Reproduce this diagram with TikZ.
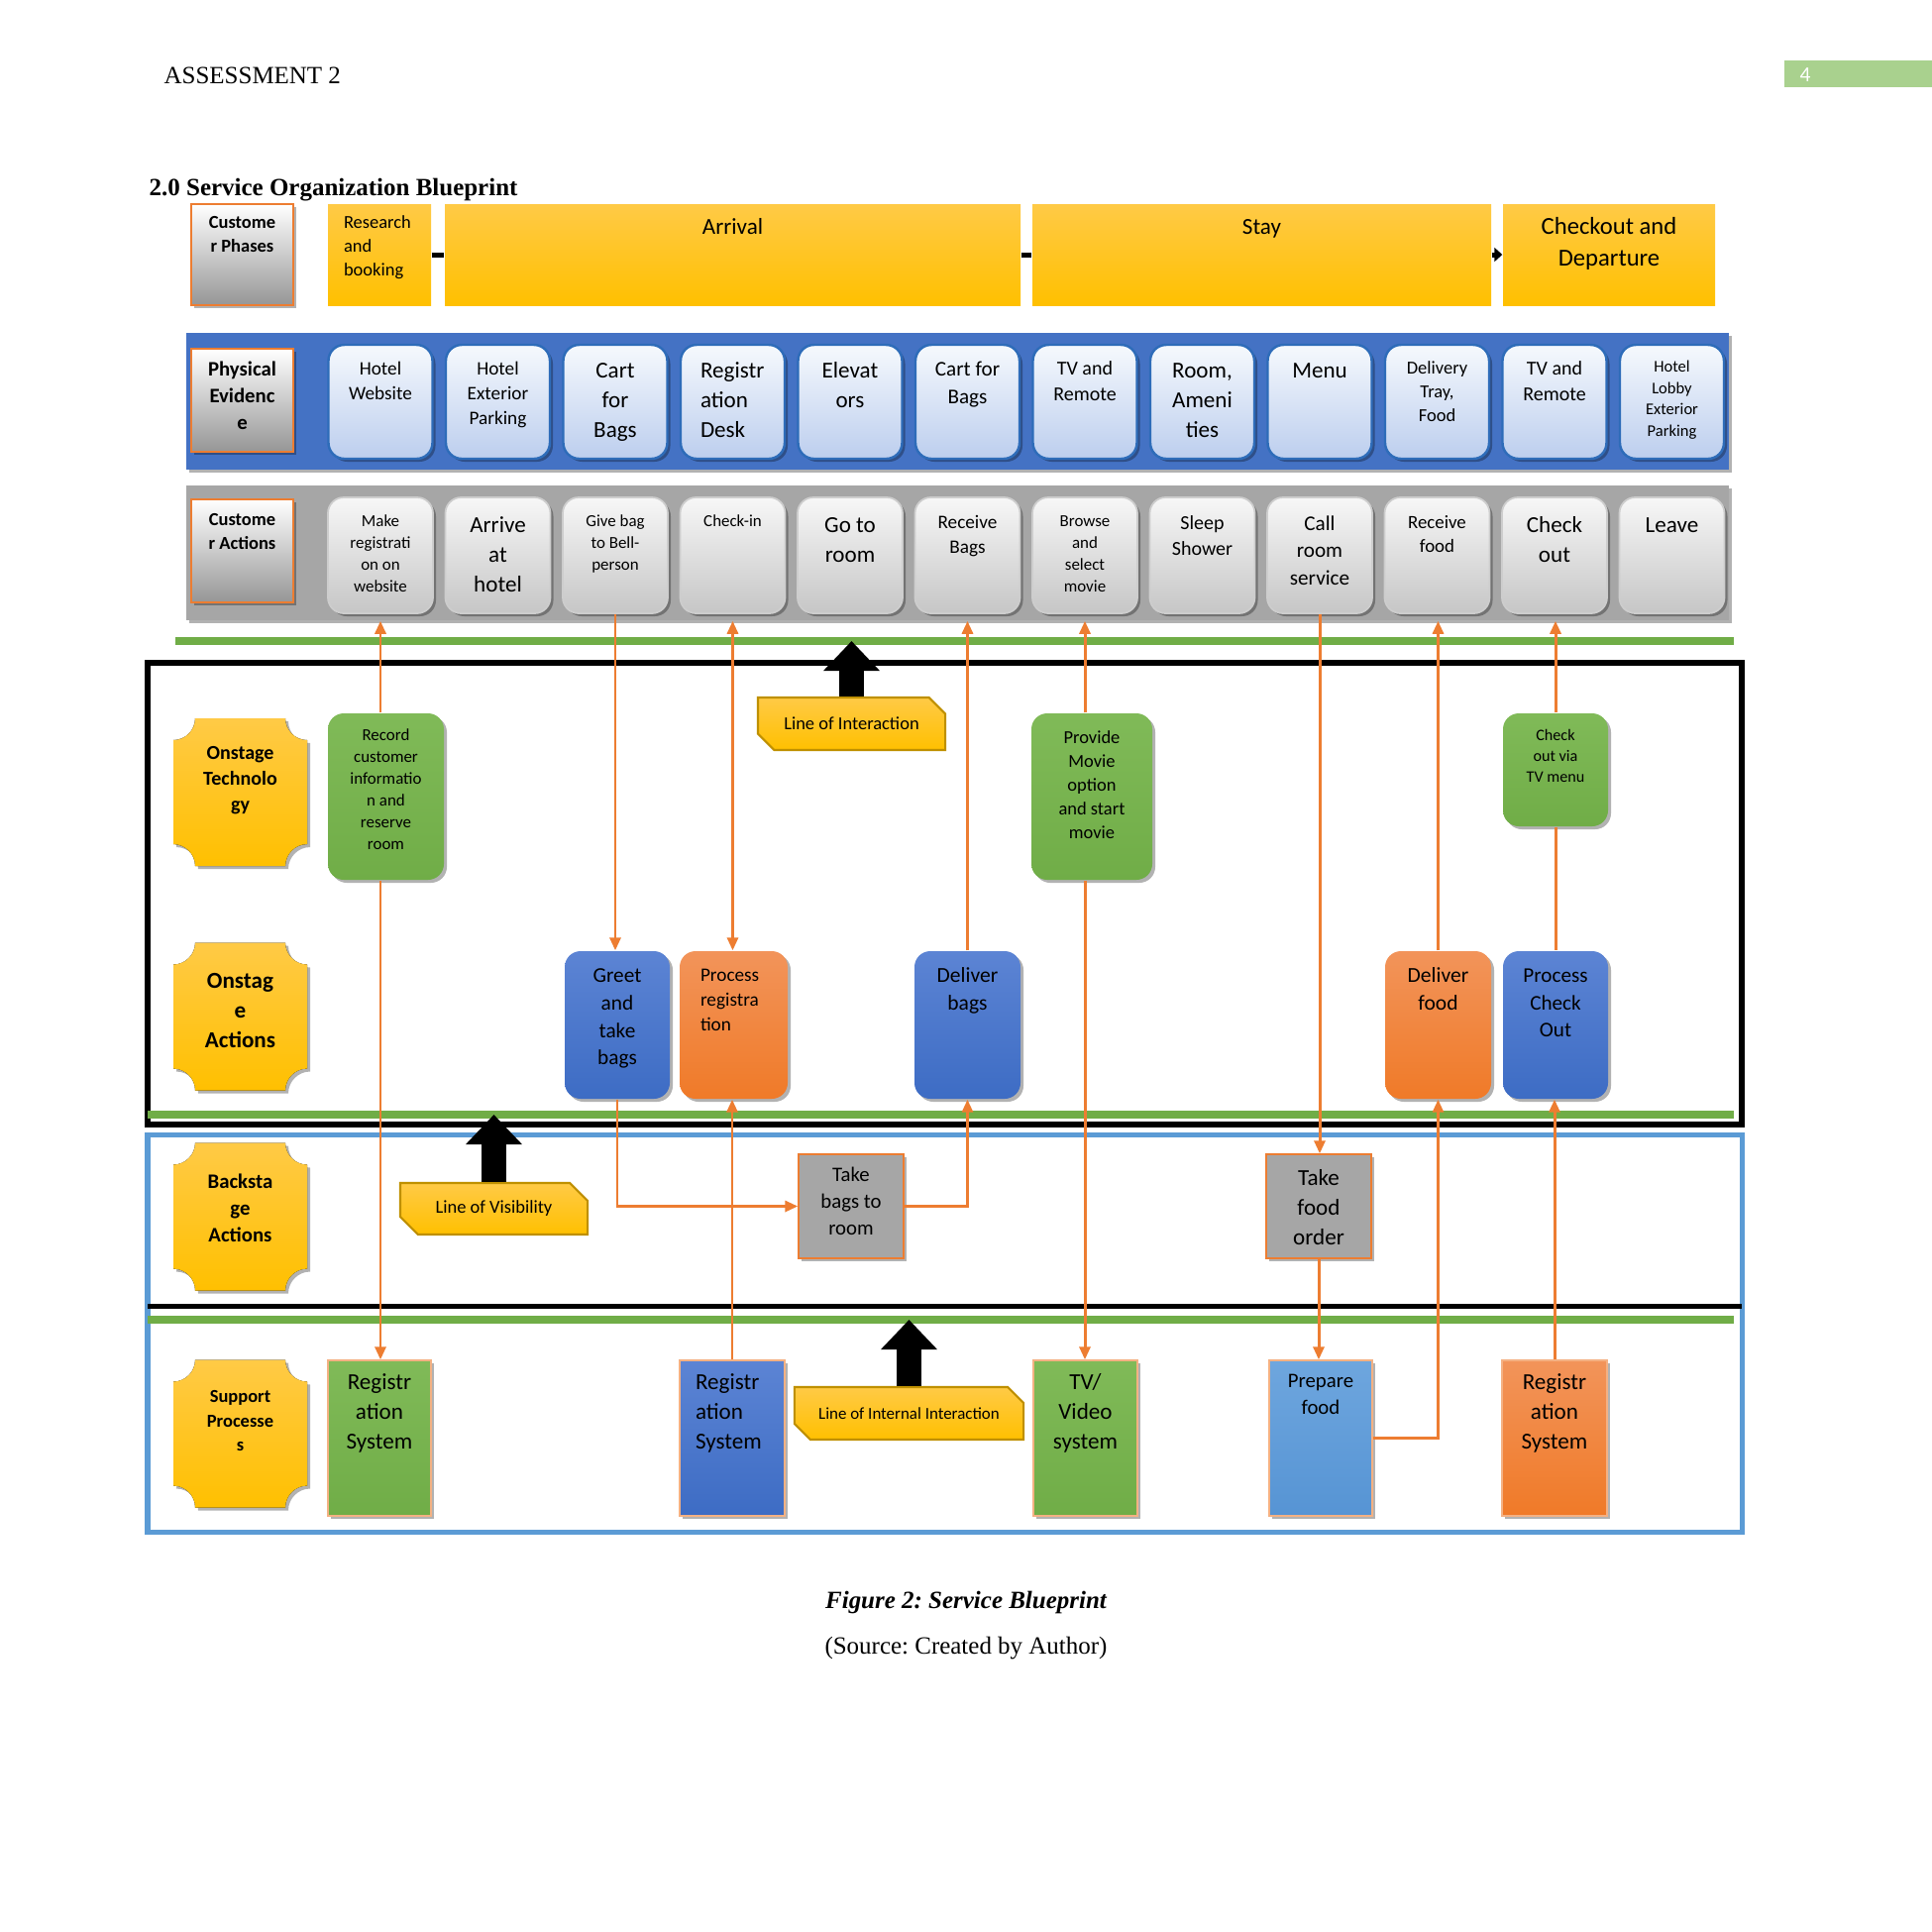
\documentclass[tikz,border=0pt]{standalone}
\usepackage{fontspec}
\setmainfont{Liberation Serif}
\newfontfamily\cbr{Carlito}
\frenchspacing
\usetikzlibrary{arrows.meta,shadows,shapes.misc}
\newdimen\pxu \pxu=0.01cm
\newcommand\fl[1]{\cbr\fontsize{\fpeval{#1*0.28453/1.3}}{\fpeval{#1*0.28453}}\selectfont}
\newcommand\bx[5]{\parbox[c][#2\pxu][t]{#1\pxu}{\vspace*{#3\pxu}#4\strut #5\par}}
\definecolor{goldT}{RGB}{255,202,70}
\definecolor{goldB}{RGB}{255,192,0}
\definecolor{goldD}{RGB}{191,144,0}
\definecolor{grnT}{RGB}{128,186,88}
\definecolor{grnB}{RGB}{112,173,71}
\definecolor{bluT}{RGB}{92,132,212}
\definecolor{bluB}{RGB}{61,108,196}
\definecolor{orgT}{RGB}{242,148,90}
\definecolor{orgB}{RGB}{240,122,40}
\definecolor{lbT}{RGB}{110,166,222}
\definecolor{lbB}{RGB}{86,148,212}
\definecolor{oline}{RGB}{237,125,49}
\definecolor{gline}{RGB}{112,173,71}
\definecolor{bframe}{RGB}{91,155,213}
\definecolor{pebandc}{RGB}{68,114,196}
\definecolor{cabandc}{RGB}{166,166,166}
\definecolor{pcT}{RGB}{246,249,253}
\definecolor{pcB}{RGB}{188,206,238}
\definecolor{pcD}{RGB}{46,108,185}
\definecolor{ccT}{RGB}{247,247,247}
\definecolor{ccB}{RGB}{198,198,198}
\definecolor{ccD}{RGB}{205,205,205}
\definecolor{lbGray}{RGB}{150,150,150}
\definecolor{pnumc}{RGB}{169,209,142}
\definecolor{gboxc}{RGB}{166,166,166}
\tikzset{
  shd/.style={drop shadow={shadow xshift=0.03cm,shadow yshift=-0.03cm,opacity=0.3,fill=black}},
  phase/.style={inner sep=0,top color=goldT,bottom color=goldB},
  lbl/.style={inner sep=0,top color=white,bottom color=lbGray,draw=oline,line width=0.5pt,shd},
  band/.style={inner sep=0,shd},
  pcard/.style={inner sep=0,rounded corners=0.16cm,top color=pcT,bottom color=pcB,draw=pcD,line width=0.7pt,shd},
  ccard/.style={inner sep=0,rounded corners=0.16cm,top color=ccT,bottom color=ccB,draw=ccD,line width=0.5pt,shd},
  rbox/.style={inner sep=0,rounded corners=0.16cm,shd},
  sbox/.style={inner sep=0,shd,draw=oline!60,line width=0.4pt},
  grn/.style={top color=grnT,bottom color=grnB},
  blu/.style={top color=bluT,bottom color=bluB},
  org/.style={top color=orgT,bottom color=orgB},
  lbx/.style={top color=lbT,bottom color=lbB},
  snipbox/.style={chamfered rectangle,chamfered rectangle corners={north east,south west},
    chamfered rectangle xsep=0.1cm,chamfered rectangle ysep=0.1cm,inner sep=0,
    top color=goldT,bottom color=goldB,draw=goldD,line width=0.6pt,align=center},
  conn/.style={draw=oline,line width=0.85pt},
  otip/.style={-{Triangle[length=0.13cm,width=0.11cm]}},
  bigarrow/.style={line width=0.25cm,-{Triangle[length=0.3cm,width=0.55cm]}},
  gl/.style={draw=gline,line width=0.08cm},
  lanetxt/.style={align=center,inner sep=0},
  times/.style={inner sep=0,font=\fontsize{7.1}{8.5}\selectfont},
}
% #1 name, #2 cx, #3 cy, #4 text y, #5 lead, #6 text
\newcommand\plaque[6]{%
  \fill[top color=goldT,bottom color=goldB,shd,shift={(#2,#3)}]
    (-45.5,-74.5) -- ++(91,0) .. controls +(0,12) and +(-12,0) .. ++(22,22)
    -- ++(0,105) .. controls +(-12,0) and +(0,-12) .. ++(-22,22)
    -- ++(-91,0) .. controls +(0,-12) and +(12,0) .. ++(-22,-22)
    -- ++(0,-105) .. controls +(12,0) and +(0,12) .. ++(22,-22) -- cycle;
  \node[lanetxt,font={\bfseries\fl{#5}}] (#1) at (#2,#4) {#6};}
\begin{document}
\begin{tikzpicture}[x=0.01cm,y=-0.01cm]
\useasboundingbox (0,0) rectangle (1950,1950);
\fill[white] (0,0) rectangle (1950,1950);
% header
\node[times,anchor=base west] (hdr) at (165,84) {ASSESSMENT 2};
\node[fill=pnumc,minimum width=1.49cm,minimum height=0.27cm,inner sep=0] (pnb) at (1875.5,74.5) {};
\node[text=white,inner sep=0,font={\fl{28}}] (pn) at (1822,76) {4};
\node[times,anchor=base west,font=\bfseries\fontsize{7.1}{8.5}\selectfont] (ttl) at (150,197) {2.0 Service Organization Blueprint};
% phases
\node[lbl] (cph) at (244.5,257) {\bx{103}{102}{8}{\fl{24}\bfseries\centering}{Custome\\r Phases}};
\node[phase] (res) at (383,257) {\bx{104}{102}{8}{\fl{24}\raggedright\leftskip=16\pxu}{Research\\and\\booking}};
\node[phase] (arr) at (739.5,257) {\bx{581}{102}{9.4}{\fl{30}\centering}{Arrival}};
\node[phase] (sty) at (1273.5,257) {\bx{463}{102}{9.4}{\fl{30}\centering}{Stay}};
\node[phase] (chk) at (1624,257) {\bx{214}{102}{8.5}{\fl{32}\centering}{Checkout and\\Departure}};
\draw[line width=0.05cm] (res.east) -- (arr.west);
\draw[line width=0.05cm] (arr.east) -- (sty.west);
\draw[line width=0.05cm,-{Triangle[length=0.08cm,width=0.14cm]}] (sty.east) -- (chk.west);
% bands
\node[band,fill=pebandc,minimum width=15.57cm,minimum height=1.38cm] (peb) at (966.5,405) {};
\node[band,fill=cabandc,minimum width=15.57cm,minimum height=1.36cm] (cab) at (966.5,558) {};
\node[lbl] (pel) at (244.5,404) {\bx{103}{104}{8.7}{\fl{27}\bfseries\centering}{Physical\\Evidenc\\e}};
\node[lbl] (cal) at (244.5,556) {\bx{103}{104}{10}{\fl{24}\bfseries\centering}{Custome\\r Actions}};
% physical evidence cards
\node[pcard] (pe1) at (384,405.5) {\bx{105}{115}{12.5}{\fl{25}\centering}{Hotel\\Website}};
\node[pcard] (pe2) at (502.5,405.5) {\bx{105}{115}{12.5}{\fl{25}\centering}{Hotel\\Exterior\\Parking}};
\node[pcard] (pe3) at (621,405.5) {\bx{105}{115}{12.5}{\fl{30}\centering}{Cart\\for\\Bags}};
\node[pcard] (pe4) at (739.5,405.5) {\bx{105}{115}{12.5}{\fl{30}\raggedright\leftskip=20\pxu}{Registr\\ation\\Desk}};
\node[pcard] (pe5) at (858,405.5) {\bx{105}{115}{12.5}{\fl{30}\centering}{Elevat\\ors}};
\node[pcard] (pe6) at (976.5,405.5) {\bx{105}{115}{12.5}{\fl{27.5}\centering}{Cart for\\Bags}};
\node[pcard] (pe7) at (1095,405.5) {\bx{105}{115}{12.5}{\fl{26}\centering}{TV and\\Remote}};
\node[pcard] (pe8) at (1213.5,405.5) {\bx{105}{115}{12.5}{\fl{30}\centering}{Room,\\Ameni\\ties}};
\node[pcard] (pe9) at (1332,405.5) {\bx{105}{115}{12.5}{\fl{30}\centering}{Menu}};
\node[pcard] (pe10) at (1450.5,405.5) {\bx{105}{115}{12.5}{\fl{24}\centering}{Delivery\\Tray,\\Food}};
\node[pcard] (pe11) at (1569,405.5) {\bx{105}{115}{12.5}{\fl{26}\centering}{TV and\\Remote}};
\node[pcard] (pe12) at (1687.5,405.5) {\bx{105}{115}{12.5}{\fl{21.5}\centering}{Hotel\\Lobby\\Exterior\\Parking}};
% customer action cards
\node[ccard] (ca1) at (384,560.5) {\bx{106}{117}{14}{\fl{22}\centering}{Make\\registrati\\on on\\website}};
\node[ccard] (ca2) at (502.5,560.5) {\bx{106}{117}{14}{\fl{30}\centering}{Arrive\\at\\hotel}};
\node[ccard] (ca3) at (621,560.5) {\bx{106}{117}{14}{\fl{22}\centering}{Give bag\\to Bell-\\person}};
\node[ccard] (ca4) at (739.5,560.5) {\bx{106}{117}{14}{\fl{22}\centering}{Check-in}};
\node[ccard] (ca5) at (858,560.5) {\bx{106}{117}{14}{\fl{30}\centering}{Go to\\room}};
\node[ccard] (ca6) at (976.5,560.5) {\bx{106}{117}{14}{\fl{25}\centering}{Receive\\Bags}};
\node[ccard] (ca7) at (1095,560.5) {\bx{106}{117}{14}{\fl{22}\centering}{Browse\\and\\select\\movie}};
\node[ccard] (ca8) at (1213.5,560.5) {\bx{106}{117}{14}{\fl{26}\centering}{Sleep\\Shower}};
\node[ccard] (ca9) at (1332,560.5) {\bx{106}{117}{14}{\fl{27.5}\centering}{Call\\room\\service}};
\node[ccard] (ca10) at (1450.5,560.5) {\bx{106}{117}{14}{\fl{24.5}\centering}{Receive\\food}};
\node[ccard] (ca11) at (1569,560.5) {\bx{106}{117}{14}{\fl{30}\centering}{Check\\out}};
\node[ccard] (ca12) at (1687.5,560.5) {\bx{106}{117}{14}{\fl{30}\centering}{Leave}};
% lines and frames
\coordinate (loiL) at (177,647); \coordinate (loiR) at (1750,647);
\coordinate (lovL) at (149,1125); \coordinate (lovR) at (1750,1125);
\coordinate (loiiL) at (149,1332); \coordinate (loiiR) at (1750,1332);
\coordinate (blL) at (149,1318); \coordinate (blR) at (1758,1318);
\draw[gl] (loiL) -- (loiR);
\draw[line width=0.06cm] (149,669) rectangle (1758,1135);
\draw[gl] (lovL) -- (lovR);
\draw[draw=bframe,line width=0.05cm] (149,1145) rectangle (1758,1546);
\draw[line width=0.05cm] (blL) -- (blR);
\draw[gl] (loiiL) -- (loiiR);
% lane labels
\plaque{lot}{242.5}{799.5}{788}{26}{Onstage\\Technolo\\gy}
\plaque{loa}{242.5}{1026}{1020}{30}{Onstag\\e\\Actions}
\plaque{lba}{242.5}{1228}{1219}{27}{Backsta\\ge\\Actions}
\plaque{lsp}{242.5}{1447}{1434}{24}{Support\\Processe\\s}
% callouts
\node[snipbox,minimum width=1.89cm,minimum height=0.53cm] (loi) at (859.5,730.5) {\fl{24}Line of Interaction};
\node[snipbox,minimum width=1.89cm,minimum height=0.52cm] (lov) at (498.5,1220) {\fl{24}Line of Visibility};
\node[snipbox,minimum width=2.31cm,minimum height=0.53cm] (loii) at (917.5,1426.5) {\fl{22}Line of Internal Interaction};
\draw[bigarrow] (loi.north) -- (loi.north |- loiL);
\draw[bigarrow] (lov.north) -- (lov.north |- lovL);
\draw[bigarrow] (loii.north) -- (loii.north |- loiiL);
% onstage technology
\node[rbox,grn] (rec) at (389.5,804) {\bx{117}{168}{12}{\fl{22}\centering}{Record\\customer\\informatio\\n and\\reserve\\room}};
\node[rbox,grn] (prov) at (1102,804) {\bx{122}{168}{14}{\fl{24}\centering}{Provide\\Movie\\option\\and start\\movie}};
\node[rbox,grn] (ctv) at (1570,777) {\bx{106}{114}{12.5}{\fl{21}\centering}{Check\\out via\\TV menu}};
% onstage actions
\node[rbox,blu] (greet) at (623,1034.5) {\bx{106}{149}{12.4}{\fl{27.7}\centering}{Greet\\and\\take\\bags}};
\node[rbox,org] (preg) at (740.5,1034.5) {\bx{109}{149}{12.6}{\fl{25}\raggedright\leftskip=21\pxu}{Process\\registra\\tion}};
\node[rbox,blu] (dbags) at (976.5,1034.5) {\bx{107}{149}{12.3}{\fl{28}\centering}{Deliver\\bags}};
\node[rbox,org] (dfood) at (1451.5,1034.5) {\bx{107}{149}{12.3}{\fl{28}\centering}{Deliver\\food}};
\node[rbox,blu] (pco) at (1570,1034.5) {\bx{106}{149}{12.5}{\fl{27.5}\centering}{Process\\Check\\Out}};
% backstage
\node[sbox,fill=gboxc,draw=oline] (tbags) at (859,1217.5) {\bx{106}{105}{8.7}{\fl{27}\centering}{Take\\bags to\\room}};
\node[sbox,fill=gboxc,draw=oline] (tfood) at (1331,1217.5) {\bx{106}{105}{10.4}{\fl{30}\centering}{Take\\food\\order}};
% support
\node[sbox,grn] (rs1) at (383,1451.5) {\bx{104}{157}{8.4}{\fl{30}\centering}{Registr\\ation\\System}};
\node[sbox,blu] (rs2) at (739,1451.5) {\bx{106}{157}{8.4}{\fl{30}\raggedright\leftskip=16\pxu}{Registr\\ation\\System}};
\node[sbox,grn] (tv) at (1095.5,1451.5) {\bx{105}{157}{8.4}{\fl{30}\centering}{TV/\\Video\\system}};
\node[sbox,lbx] (pfood) at (1333,1451.5) {\bx{104}{157}{8.7}{\fl{27}\centering}{Prepare\\food}};
\node[sbox,org] (rs3) at (1569,1451.5) {\bx{106}{157}{8.4}{\fl{30}\centering}{Registr\\ation\\System}};
% connectors
\draw[conn,otip] (rec.north -| ca1) -- (ca1 |- cab.south);
\draw[conn,otip] (rec.south -| ca1) -- (rs1.north -| ca1);
\draw[conn,otip] (ca3.south) -- (ca3.south |- greet.north);
\draw[conn,otip] (greet.south) -- (greet.south |- tbags.west) -- (tbags.west);
\draw[conn,{Triangle[length=0.13cm,width=0.11cm]}-{Triangle[length=0.13cm,width=0.11cm]}] (ca4 |- cab.south) -- (ca4 |- preg.north);
\draw[conn,otip] (rs2.north) -- (rs2.north |- preg.south);
\draw[conn,otip] (dbags.north) -- (dbags.north |- cab.south);
\draw[conn,otip] (tbags.east) -- (tbags.east -| dbags.south) -- (dbags.south);
\draw[conn,otip] (prov.north -| ca7) -- (ca7 |- cab.south);
\draw[conn,otip] (prov.south -| ca7) -- (tv.north -| ca7);
\draw[conn,otip] (ca9.south) -- (ca9.south |- tfood.north);
\draw[conn,otip] (tfood.south) -- (tfood.south |- pfood.north);
\draw[conn,otip] (dfood.north) -- (dfood.north |- cab.south);
\draw[conn,otip] (pfood.east) -- (pfood.east -| dfood.south) -- (dfood.south);
\draw[conn,otip] (ctv.north) -- (ctv.north |- cab.south);
\draw[conn] (ctv.south) -- (pco.north);
\draw[conn,otip] (rs3.north) -- (rs3.north |- pco.south);
% caption
\node[times,font=\bfseries\itshape\fontsize{7.1}{8.5}\selectfont] (fig) at (975,1617) {Figure 2: Service Blueprint};
\node[times] (src) at (975,1664) {(Source: Created by Author)};
\end{tikzpicture}
\end{document}
